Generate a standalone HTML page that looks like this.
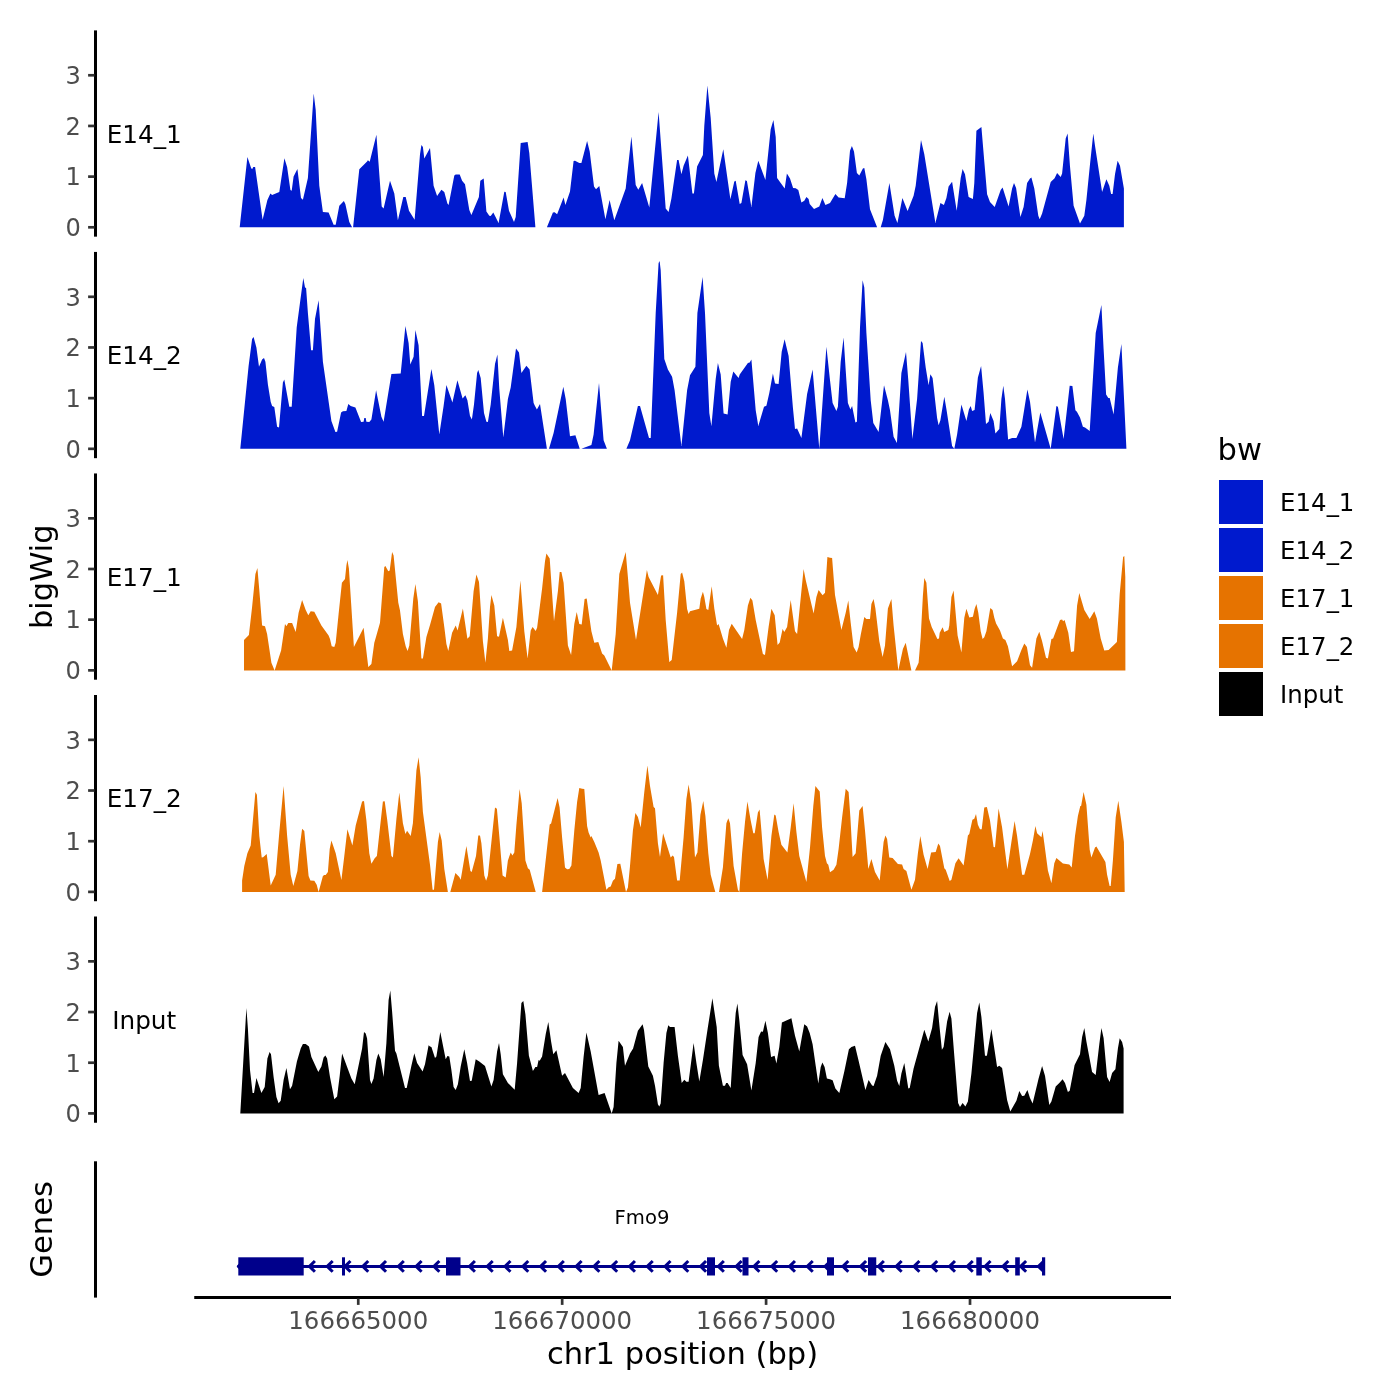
<!DOCTYPE html>
<html lang="en"><head><meta charset="utf-8"><title>bigWig tracks</title>
<style>
html,body{margin:0;padding:0;background:#fff}
body{width:1400px;height:1400px;overflow:hidden}
svg{display:block}
</style></head><body>
<svg width="1400" height="1400" viewBox="0 0 1400 1400" font-family="'DejaVu Sans', 'Liberation Sans', sans-serif">
<rect width="1400" height="1400" fill="#fff"/>
<g class="track">
<path d="M239.7,227.3L239.7,227.3L247.4,156.9L251.1,167.9L252.1,169.3L253.3,166.9L255.1,167.1L262.6,219.7L267.4,200.0L270.4,193.6L272.1,195.0L279.3,192.1L284.4,158.3L287.1,167.1L290.4,190.0L291.7,190.7L293.6,176.4L297.4,169.0L301.0,197.9L302.9,199.7L307.9,177.9L313.7,93.6L315.7,110.0L319.3,185.7L322.9,212.1L328.6,212.4L333.6,224.7L335.7,224.7L339.3,205.7L343.9,201.0L345.4,204.3L349.3,222.1L352.1,227.3L353.1,227.3L359.3,169.3L367.1,161.4L367.9,160.3L369.7,161.7L376.4,134.7L381.7,206.4L383.6,208.6L390.0,180.7L394.3,193.6L397.9,220.3L403.3,197.1L405.7,197.1L409.0,210.7L414.6,219.7L420.0,154.3L421.4,145.0L422.9,147.1L424.3,158.6L430.0,148.1L433.6,185.7L437.1,196.1L441.4,189.7L444.3,192.1L447.4,203.6L448.6,205.0L454.3,175.4L455.7,174.6L459.7,174.6L462.1,180.7L465.0,184.3L469.3,210.0L471.4,215.0L478.9,197.1L480.3,180.7L483.7,178.6L486.4,211.4L489.3,215.7L490.7,216.0L493.3,212.6L498.6,222.9L504.3,191.7L505.7,192.1L509.0,210.7L514.0,222.1L515.7,217.1L520.7,142.9L527.6,141.9L529.3,152.9L535.4,227.3L546.9,227.3L552.9,212.6L554.6,212.3L557.1,214.3L563.6,197.6L565.4,205.0L570.0,191.4L573.6,161.1L575.0,160.7L579.3,162.9L581.4,163.1L587.1,141.0L589.7,151.4L594.0,186.4L596.0,189.3L599.3,186.0L605.4,219.3L609.6,200.0L614.3,220.3L625.7,188.6L631.4,136.4L635.7,185.0L638.3,189.7L642.1,182.9L649.3,207.4L658.6,111.9L665.7,208.6L668.6,211.9L671.4,198.6L677.1,160.0L678.6,160.0L681.4,174.3L683.6,165.7L687.9,155.4L692.4,193.6L693.9,193.6L697.1,166.4L702.9,155.0L704.3,125.7L707.4,85.4L710.7,117.9L714.3,173.6L716.4,181.9L723.3,149.3L730.4,199.3L734.3,181.4L735.7,180.7L739.7,204.0L741.4,202.9L745.4,180.3L746.9,181.1L751.4,207.1L755.4,172.9L758.3,160.7L765.4,180.0L770.7,129.3L773.4,120.0L775.7,137.1L777.1,177.9L784.7,188.6L786.9,173.6L790.0,178.6L793.1,187.9L795.7,188.3L798.3,190.0L801.4,202.6L804.3,200.7L806.4,196.9L808.6,198.9L809.7,204.0L814.0,208.9L819.3,206.4L822.4,197.9L825.4,205.0L830.0,202.9L835.4,194.0L838.6,197.4L844.7,198.3L847.1,182.9L850.0,150.7L851.9,146.0L854.0,151.4L856.9,172.9L859.3,175.4L862.9,168.6L864.3,167.9L866.4,179.3L870.0,209.3L877.1,227.3L880.7,227.3L882.9,220.0L889.4,182.9L894.6,215.7L897.4,222.9L902.4,197.9L907.6,211.1L913.6,195.7L915.7,185.7L921.0,140.0L924.3,154.3L935.4,223.1L940.4,202.9L943.9,205.0L946.4,197.9L948.6,186.4L952.1,181.7L956.7,210.7L960.7,177.9L962.6,169.0L965.0,174.3L968.6,197.1L972.9,198.9L974.3,182.9L976.4,130.7L981.4,126.9L984.3,161.4L987.1,194.3L990.0,202.1L994.7,207.1L1000.7,190.0L1002.6,187.4L1008.6,206.4L1012.1,188.6L1014.0,182.9L1016.1,187.9L1020.4,217.1L1023.6,207.1L1027.1,182.9L1030.0,178.6L1031.4,177.4L1034.3,188.6L1038.3,215.7L1039.7,219.3L1042.1,213.6L1050.7,182.1L1054.6,178.3L1057.1,172.9L1060.7,177.1L1062.1,173.6L1065.7,138.6L1067.6,133.6L1070.0,166.4L1073.6,205.7L1080.0,223.6L1084.3,215.7L1086.4,200.0L1090.0,164.3L1093.3,133.6L1095.0,145.7L1102.1,192.1L1106.4,179.3L1109.3,185.7L1111.1,194.0L1112.6,194.0L1115.0,174.3L1117.6,160.7L1120.0,165.7L1123.9,188.6L1123.9,227.3L1123.9,227.3Z" fill="#001ACE"/>
<line x1="95.5" x2="95.5" y1="30.4" y2="236.65" stroke="#000" stroke-width="3.0"/>
<line x1="88.10" x2="94.50" y1="227.30" y2="227.30" stroke="#333" stroke-width="2.7"/>
<text x="80.9" y="236.10" font-size="24.1" fill="#4D4D4D" text-anchor="end">0</text>
<line x1="88.10" x2="94.50" y1="176.62" y2="176.62" stroke="#333" stroke-width="2.7"/>
<text x="80.9" y="185.42" font-size="24.1" fill="#4D4D4D" text-anchor="end">1</text>
<line x1="88.10" x2="94.50" y1="125.95" y2="125.95" stroke="#333" stroke-width="2.7"/>
<text x="80.9" y="134.75" font-size="24.1" fill="#4D4D4D" text-anchor="end">2</text>
<line x1="88.10" x2="94.50" y1="75.27" y2="75.27" stroke="#333" stroke-width="2.7"/>
<text x="80.9" y="84.07" font-size="24.1" fill="#4D4D4D" text-anchor="end">3</text>
<text x="144.2" y="142.90" font-size="24.7" fill="#000" text-anchor="middle">E14_1</text>
</g>
<g class="track">
<path d="M240.3,448.8L240.3,448.8L248.6,366.0L252.1,338.9L253.6,337.1L256.4,347.4L259.0,366.7L262.1,359.6L264.0,357.9L265.4,361.7L267.9,384.6L270.7,401.7L272.1,406.0L274.3,407.1L277.1,426.7L279.0,427.4L282.9,382.4L284.3,379.6L289.3,406.7L291.7,406.7L296.7,327.4L303.3,277.9L305.0,287.4L306.1,288.1L307.9,313.1L311.1,350.3L312.9,350.3L315.0,318.9L318.6,300.3L322.9,361.7L331.4,421.0L335.4,432.1L337.1,431.7L341.1,412.4L342.9,411.3L346.4,411.0L348.3,403.9L350.7,406.0L355.4,407.4L361.1,422.0L363.6,421.7L364.3,418.1L365.7,418.1L366.4,421.7L369.3,422.0L371.4,419.6L376.1,390.3L381.4,416.7L383.6,421.7L391.4,373.9L400.7,373.6L405.4,326.0L408.6,343.1L410.3,364.6L413.6,356.7L415.4,330.0L418.6,345.3L422.1,416.0L424.0,416.0L431.4,368.9L434.3,385.3L439.3,434.6L443.6,406.0L446.4,384.9L452.4,402.4L457.4,380.3L462.6,398.6L465.4,395.3L467.4,400.3L470.0,416.0L471.9,419.6L474.0,404.6L477.1,373.1L478.3,369.9L480.7,378.1L484.0,413.1L486.4,421.7L487.9,422.0L490.7,404.6L495.0,363.9L497.4,354.6L499.3,388.9L503.3,437.4L507.9,398.9L510.7,387.4L516.0,348.6L519.0,352.4L521.4,373.1L526.4,365.7L529.6,369.6L533.6,403.1L535.0,406.0L536.9,409.6L540.0,403.9L546.9,448.8L549.0,448.8L553.6,433.1L563.3,386.7L565.7,398.9L570.0,436.3L575.4,435.3L579.7,448.8L581.4,448.8L591.4,444.9L593.6,434.6L599.0,382.9L603.6,440.3L606.9,448.8L626.4,448.8L630.0,440.3L637.9,406.0L640.0,406.0L649.0,438.1L650.7,438.1L655.7,313.1L658.6,263.1L659.6,261.0L660.7,270.3L664.3,358.9L667.9,369.6L672.1,376.7L674.6,390.3L681.4,446.0L687.1,390.3L690.0,375.3L695.4,366.7L697.4,313.1L702.6,277.1L705.0,313.1L709.3,413.1L711.4,426.3L715.7,378.9L717.9,363.1L720.7,374.6L723.6,413.6L727.6,414.6L730.7,381.7L733.3,371.4L738.6,378.1L739.7,374.6L747.9,362.9L749.7,362.4L751.4,359.6L755.7,410.3L758.3,426.0L764.0,406.7L766.4,405.7L769.3,393.1L772.9,373.6L775.0,383.4L778.6,383.9L781.7,351.7L784.6,339.3L788.6,356.0L792.9,407.4L795.0,428.9L797.1,428.6L801.4,437.9L807.1,393.9L812.6,369.6L819.3,448.8L826.4,346.7L830.0,380.3L832.6,403.1L836.4,411.0L837.9,406.7L840.7,361.7L843.6,337.4L845.7,370.3L847.9,403.1L850.4,409.6L852.1,406.0L855.4,422.4L856.9,421.7L860.0,327.4L862.6,280.3L864.3,287.4L866.4,333.1L870.7,400.3L873.3,423.1L878.6,432.0L884.0,385.3L887.9,400.3L890.0,410.3L893.6,436.7L896.9,443.1L901.4,373.1L906.0,352.0L908.3,380.3L912.4,438.9L917.1,398.9L921.0,341.0L922.6,343.1L925.7,367.4L928.6,385.3L930.4,374.3L932.6,378.1L937.1,418.1L938.6,425.3L940.4,420.3L944.3,396.7L946.4,408.9L952.1,446.0L954.3,448.8L957.1,434.6L961.4,404.6L966.4,421.0L968.9,409.6L970.7,406.0L972.1,411.0L974.6,410.0L977.9,377.4L981.1,366.0L983.6,393.1L986.0,423.9L988.6,421.7L990.3,413.1L993.6,421.0L995.4,433.4L999.3,429.1L1001.4,398.9L1003.3,385.7L1005.0,398.9L1008.1,439.6L1012.1,438.1L1016.4,438.1L1021.4,426.7L1024.3,408.9L1027.4,389.6L1030.0,401.7L1035.0,442.4L1040.3,412.4L1050.7,448.8L1056.4,406.0L1057.9,406.7L1063.6,438.9L1069.7,385.7L1072.4,386.0L1075.4,410.3L1076.9,411.7L1080.0,417.4L1082.9,426.7L1085.0,427.4L1089.7,431.0L1095.7,333.1L1101.4,305.0L1103.6,348.9L1106.1,394.6L1108.3,398.1L1109.7,398.1L1113.6,414.6L1117.9,367.4L1121.4,343.9L1126.4,448.8L1126.4,448.8Z" fill="#001ACE"/>
<line x1="95.5" x2="95.5" y1="251.925" y2="458.175" stroke="#000" stroke-width="3.0"/>
<line x1="88.10" x2="94.50" y1="448.83" y2="448.83" stroke="#333" stroke-width="2.7"/>
<text x="80.9" y="457.63" font-size="24.1" fill="#4D4D4D" text-anchor="end">0</text>
<line x1="88.10" x2="94.50" y1="398.15" y2="398.15" stroke="#333" stroke-width="2.7"/>
<text x="80.9" y="406.95" font-size="24.1" fill="#4D4D4D" text-anchor="end">1</text>
<line x1="88.10" x2="94.50" y1="347.47" y2="347.47" stroke="#333" stroke-width="2.7"/>
<text x="80.9" y="356.27" font-size="24.1" fill="#4D4D4D" text-anchor="end">2</text>
<line x1="88.10" x2="94.50" y1="296.80" y2="296.80" stroke="#333" stroke-width="2.7"/>
<text x="80.9" y="305.60" font-size="24.1" fill="#4D4D4D" text-anchor="end">3</text>
<text x="144.2" y="364.43" font-size="24.7" fill="#000" text-anchor="middle">E14_2</text>
</g>
<g class="track">
<path d="M244.0,670.4L244.0,670.4L244.0,639.9L248.9,634.9L252.1,607.0L255.4,574.1L257.4,568.1L259.3,589.9L262.1,625.6L265.0,626.3L267.1,634.1L271.4,662.7L274.6,670.4L281.1,650.6L285.0,624.1L286.4,626.3L288.3,623.0L292.1,623.1L295.7,632.0L298.6,612.7L302.1,600.1L305.7,609.9L308.3,615.3L310.7,611.3L314.3,611.7L321.4,625.6L328.6,635.6L330.0,639.1L331.7,646.3L334.3,647.0L335.7,642.7L338.6,614.1L341.9,582.7L345.0,579.1L346.4,565.6L347.4,559.9L348.9,568.4L351.1,602.7L353.9,647.0L363.6,627.7L368.3,667.0L371.4,664.1L374.3,642.7L376.4,635.6L380.0,622.7L384.3,567.0L385.4,565.9L388.3,571.3L389.7,570.6L392.1,552.0L393.6,555.6L398.3,602.7L400.0,610.6L402.9,634.1L405.7,646.3L407.6,651.0L409.3,645.6L413.3,598.4L415.4,584.1L417.9,601.3L421.4,658.4L422.9,658.4L426.4,637.0L430.0,624.9L435.0,607.0L438.6,602.3L441.1,603.4L444.3,627.0L446.4,644.1L448.3,651.0L452.1,632.7L455.7,625.6L457.6,630.6L462.9,608.4L467.4,638.7L469.7,636.3L473.6,591.3L476.4,574.4L479.0,582.0L482.9,641.3L485.4,662.7L487.9,638.4L490.0,607.0L491.4,594.9L494.3,605.6L497.1,636.3L499.0,636.7L502.9,617.7L507.9,639.9L509.3,650.9L512.1,650.6L516.4,627.0L520.4,580.6L524.3,631.3L527.6,658.4L530.7,630.6L532.6,627.0L535.7,631.0L537.1,627.7L542.1,588.4L545.0,561.3L546.4,553.4L549.7,558.4L554.0,621.3L557.9,591.3L559.7,572.0L561.4,572.0L563.6,582.7L567.9,645.6L571.1,654.9L574.3,624.1L576.7,612.0L579.3,624.1L581.7,624.4L584.6,599.1L586.7,598.4L591.4,631.3L594.3,642.7L598.3,642.0L602.1,653.4L604.3,655.6L611.7,670.4L615.7,634.1L619.3,574.1L625.7,552.0L627.9,577.0L630.0,602.7L636.0,639.9L646.9,570.1L648.6,577.0L657.9,594.9L661.1,575.6L663.1,575.3L665.7,619.9L669.3,662.0L671.7,659.9L677.1,612.7L680.7,574.1L682.1,572.4L684.3,581.3L687.1,609.1L688.6,614.1L690.0,611.3L699.3,608.7L700.7,598.4L702.9,591.7L704.3,597.0L706.4,609.1L708.3,609.9L711.7,586.3L714.3,608.4L717.1,625.6L718.6,624.1L722.9,638.4L726.4,647.7L729.0,629.9L731.7,623.7L742.1,639.1L744.3,629.9L747.9,605.6L750.4,597.7L752.4,600.6L755.7,619.9L762.9,654.1L765.0,654.9L768.6,627.0L771.4,608.7L774.7,615.3L777.6,644.9L779.7,642.4L782.6,629.1L784.3,632.0L787.1,627.0L790.7,600.1L795.0,631.3L797.1,633.9L803.6,569.1L805.7,579.9L813.6,613.4L816.4,597.0L818.6,589.9L822.6,595.3L825.0,592.7L827.4,557.0L830.0,557.7L832.1,558.1L835.0,594.9L841.4,629.9L845.7,612.7L848.3,600.6L850.7,622.7L853.6,647.0L856.7,652.4L858.6,647.0L860.7,634.9L864.3,617.0L866.4,619.1L870.0,618.9L871.4,604.1L873.6,599.1L875.4,608.4L879.3,641.3L882.6,657.0L885.0,645.6L887.9,608.4L891.4,599.1L893.6,625.6L898.3,670.4L902.9,649.1L905.7,642.7L911.4,670.4L915.0,670.4L918.6,662.7L920.7,637.0L922.9,595.6L924.3,578.0L926.4,582.7L929.0,618.4L931.7,627.0L937.4,639.1L939.0,638.4L939.7,632.7L942.6,627.3L944.3,632.0L948.3,629.9L949.3,625.6L951.4,597.0L953.6,590.6L955.4,610.6L957.6,635.6L961.4,652.4L964.3,617.7L966.4,608.7L969.3,617.4L972.9,616.7L974.6,609.1L976.4,604.1L978.3,612.7L980.7,631.3L982.6,639.1L984.3,637.3L986.4,631.3L990.3,608.0L992.6,610.1L994.3,617.7L996.1,623.4L1000.0,630.6L1002.9,638.4L1005.4,639.9L1007.9,646.3L1012.1,666.3L1017.1,661.3L1021.4,649.9L1024.3,643.4L1026.9,647.0L1030.0,665.3L1032.1,667.7L1036.4,638.4L1039.3,631.7L1042.1,641.3L1046.0,657.7L1047.9,658.4L1051.4,639.1L1053.1,638.4L1060.0,619.9L1062.1,619.6L1063.1,621.3L1064.6,619.9L1068.3,632.7L1071.0,652.0L1074.0,651.3L1077.1,605.6L1079.3,593.0L1084.3,609.9L1089.7,619.1L1094.3,611.3L1096.9,618.4L1100.7,638.4L1104.3,650.6L1108.6,649.9L1116.9,642.0L1119.7,594.1L1123.1,557.0L1124.3,556.0L1125.3,577.0L1125.4,670.4L1125.4,670.4Z" fill="#E67300"/>
<line x1="95.5" x2="95.5" y1="473.45" y2="679.7" stroke="#000" stroke-width="3.0"/>
<line x1="88.10" x2="94.50" y1="670.35" y2="670.35" stroke="#333" stroke-width="2.7"/>
<text x="80.9" y="679.15" font-size="24.1" fill="#4D4D4D" text-anchor="end">0</text>
<line x1="88.10" x2="94.50" y1="619.67" y2="619.67" stroke="#333" stroke-width="2.7"/>
<text x="80.9" y="628.47" font-size="24.1" fill="#4D4D4D" text-anchor="end">1</text>
<line x1="88.10" x2="94.50" y1="569.00" y2="569.00" stroke="#333" stroke-width="2.7"/>
<text x="80.9" y="577.80" font-size="24.1" fill="#4D4D4D" text-anchor="end">2</text>
<line x1="88.10" x2="94.50" y1="518.32" y2="518.32" stroke="#333" stroke-width="2.7"/>
<text x="80.9" y="527.12" font-size="24.1" fill="#4D4D4D" text-anchor="end">3</text>
<text x="144.2" y="585.95" font-size="24.7" fill="#000" text-anchor="middle">E17_1</text>
</g>
<g class="track">
<path d="M242.1,891.9L242.1,891.9L242.1,880.4L244.3,866.1L247.4,853.3L250.7,845.4L255.4,792.1L256.9,794.7L259.3,836.1L261.7,857.6L263.1,857.3L266.7,854.0L270.7,885.4L275.7,874.7L279.3,832.6L283.6,786.1L287.1,835.4L290.7,874.7L293.3,885.9L297.4,871.1L300.0,844.7L302.1,828.7L304.3,831.1L308.6,876.1L310.4,880.4L314.3,880.7L316.7,884.7L318.6,891.9L322.9,876.1L324.3,875.0L325.7,875.0L327.9,871.9L329.7,849.0L331.4,840.4L335.7,853.3L341.4,880.1L344.3,856.1L347.4,829.3L352.4,845.4L355.7,825.4L362.1,801.6L364.0,801.1L366.4,820.4L369.3,853.3L371.4,863.7L374.7,858.3L376.9,856.1L380.0,827.6L382.9,801.6L384.7,801.3L387.1,819.0L391.4,856.1L392.9,857.6L396.4,819.0L399.3,792.6L402.9,823.3L405.4,834.0L407.1,830.7L410.7,836.1L412.9,823.3L416.4,770.4L418.6,757.3L420.7,777.6L422.9,811.9L430.0,864.7L432.6,889.7L434.0,889.7L437.9,841.9L439.7,832.1L441.7,840.4L444.3,869.0L447.9,891.9L450.3,891.9L455.4,873.0L459.3,876.9L460.7,879.7L466.4,846.1L470.4,871.1L471.7,872.1L476.0,856.1L478.3,835.4L480.0,835.4L481.4,843.3L484.3,875.4L486.1,880.7L487.9,875.4L492.9,827.6L495.0,807.6L496.9,808.7L499.3,836.1L502.6,875.4L505.7,877.6L507.9,860.4L510.7,852.6L512.4,855.4L514.3,852.6L516.4,824.7L519.6,789.0L521.7,803.3L525.4,860.4L527.9,868.3L529.7,869.7L535.7,891.9L542.1,891.9L547.1,847.6L549.7,824.4L551.1,823.6L557.6,798.0L559.6,807.6L562.1,837.6L565.0,867.6L567.1,869.3L569.3,869.0L571.4,865.4L574.3,830.4L577.1,801.9L579.3,788.0L582.1,788.7L584.3,789.0L587.1,826.1L588.6,832.6L590.7,837.6L591.4,835.9L594.3,841.9L598.6,852.6L600.7,860.4L606.4,889.7L608.6,887.3L610.7,886.4L612.9,880.7L615.0,878.7L617.4,864.0L620.3,863.7L626.0,891.9L627.9,887.6L630.0,866.1L632.9,830.4L635.4,813.0L637.9,816.9L640.7,827.6L644.3,791.9L647.4,765.4L650.0,786.1L653.6,806.9L655.0,808.3L657.9,843.3L660.0,856.9L663.1,833.3L667.1,846.1L670.7,857.6L672.6,855.4L674.0,856.9L677.1,880.4L679.7,880.4L683.6,837.6L686.4,799.0L688.6,784.4L691.4,803.3L695.0,857.6L697.4,852.6L700.4,814.7L703.3,801.1L705.4,816.1L708.3,853.3L710.7,874.7L715.3,891.9L719.0,891.9L722.9,867.6L726.4,823.3L728.3,818.3L730.0,823.3L733.6,866.1L737.9,889.7L739.3,891.9L742.1,853.3L745.0,821.9L747.4,801.6L750.7,820.4L753.3,833.3L754.7,833.3L757.9,812.6L759.6,809.4L761.4,830.4L763.6,859.0L767.6,880.1L771.4,836.1L774.3,814.4L775.7,815.4L778.6,831.9L781.4,844.7L787.4,852.6L790.7,827.6L793.6,803.3L796.4,831.9L799.3,856.1L806.4,881.9L810.0,847.6L813.3,806.1L815.4,785.9L819.7,791.6L822.1,827.6L825.0,856.1L826.9,863.3L828.3,864.7L830.0,872.3L833.6,869.7L836.4,864.7L838.6,849.0L842.1,817.6L845.7,788.7L848.6,791.9L850.4,817.6L852.6,856.9L855.7,853.3L859.3,810.4L862.6,805.9L865.0,830.4L868.3,869.0L871.4,859.0L875.0,871.9L879.7,880.4L883.6,841.9L885.4,835.4L887.1,839.0L889.3,857.6L892.6,857.9L897.9,864.0L902.1,864.4L903.6,869.0L906.4,871.1L911.4,889.7L915.0,879.7L917.9,853.3L920.3,835.9L923.6,854.7L927.6,869.0L931.1,852.6L935.7,852.1L938.3,843.6L940.0,846.1L944.3,868.3L945.7,869.7L949.7,881.1L951.4,879.7L955.4,863.3L958.6,858.3L963.6,865.4L967.9,835.4L969.3,834.0L972.4,819.7L974.3,818.7L976.0,814.0L977.9,824.7L980.0,829.3L981.7,829.3L984.3,807.6L986.9,806.9L990.0,820.4L993.6,846.9L995.0,847.3L998.6,808.6L1002.1,827.6L1007.4,869.3L1011.4,841.9L1014.6,821.1L1017.1,836.1L1022.1,874.7L1024.3,874.7L1030.0,854.0L1032.9,840.4L1035.4,826.1L1037.1,833.3L1041.4,837.3L1042.6,831.1L1044.3,843.3L1047.9,870.4L1051.4,883.3L1054.3,863.3L1056.4,858.0L1062.9,863.6L1069.3,864.4L1071.7,867.6L1075.0,836.1L1077.9,816.1L1080.3,806.1L1081.1,805.9L1083.6,792.1L1086.4,804.7L1089.7,849.7L1091.4,857.6L1095.0,847.6L1096.4,846.4L1105.4,861.9L1107.1,874.7L1109.6,886.1L1110.7,886.1L1112.9,860.4L1115.7,817.6L1118.3,800.7L1121.4,821.9L1123.9,841.9L1124.7,891.9L1124.7,891.9Z" fill="#E67300"/>
<line x1="95.5" x2="95.5" y1="694.975" y2="901.225" stroke="#000" stroke-width="3.0"/>
<line x1="88.10" x2="94.50" y1="891.88" y2="891.88" stroke="#333" stroke-width="2.7"/>
<text x="80.9" y="900.67" font-size="24.1" fill="#4D4D4D" text-anchor="end">0</text>
<line x1="88.10" x2="94.50" y1="841.20" y2="841.20" stroke="#333" stroke-width="2.7"/>
<text x="80.9" y="850.00" font-size="24.1" fill="#4D4D4D" text-anchor="end">1</text>
<line x1="88.10" x2="94.50" y1="790.52" y2="790.52" stroke="#333" stroke-width="2.7"/>
<text x="80.9" y="799.32" font-size="24.1" fill="#4D4D4D" text-anchor="end">2</text>
<line x1="88.10" x2="94.50" y1="739.85" y2="739.85" stroke="#333" stroke-width="2.7"/>
<text x="80.9" y="748.65" font-size="24.1" fill="#4D4D4D" text-anchor="end">3</text>
<text x="144.2" y="807.48" font-size="24.7" fill="#000" text-anchor="middle">E17_2</text>
</g>
<g class="track">
<path d="M240.3,1113.4L240.3,1113.4L243.6,1055.7L246.4,1007.9L247.9,1028.6L250.0,1070.0L252.6,1092.9L254.0,1092.9L256.4,1077.9L261.4,1092.9L264.7,1087.1L267.4,1058.6L269.6,1052.1L271.0,1054.3L273.6,1077.1L276.4,1097.1L278.6,1103.3L280.7,1100.7L283.6,1080.0L286.4,1067.9L290.0,1089.3L292.1,1085.7L296.9,1061.4L300.7,1048.6L302.9,1044.0L305.7,1044.0L309.0,1046.4L311.4,1057.1L318.3,1072.1L321.4,1066.4L323.6,1057.4L325.4,1055.4L327.1,1058.6L330.0,1077.1L334.3,1099.3L337.1,1096.4L339.7,1075.7L342.1,1053.6L351.4,1078.6L354.7,1084.3L362.1,1048.6L364.0,1031.9L365.7,1033.6L367.1,1038.6L370.0,1080.0L371.4,1084.0L373.6,1078.6L376.4,1060.0L378.3,1053.6L380.7,1059.3L383.6,1077.1L386.4,1042.9L388.6,1000.0L390.3,990.4L392.1,1011.4L395.0,1050.7L396.4,1053.6L405.0,1087.9L406.7,1087.9L411.4,1065.7L414.3,1053.3L417.1,1062.9L422.6,1071.4L425.0,1064.3L428.6,1045.3L430.0,1046.4L431.4,1047.1L435.0,1057.9L436.4,1056.4L440.3,1031.9L445.7,1059.3L447.4,1056.0L449.3,1056.4L451.4,1070.0L453.6,1087.1L455.7,1090.0L457.9,1084.3L460.7,1066.4L464.3,1049.3L467.1,1062.9L470.0,1081.1L471.7,1080.7L475.7,1059.3L479.3,1061.4L485.0,1066.0L491.4,1086.4L493.6,1080.0L497.1,1051.4L499.0,1043.1L500.7,1054.3L502.9,1074.3L507.9,1082.9L514.7,1089.7L517.1,1062.9L521.4,1002.9L523.3,1001.1L525.4,1014.3L528.9,1055.7L532.9,1071.1L535.4,1067.1L537.1,1066.9L538.6,1060.0L539.7,1060.7L542.1,1056.4L545.7,1034.3L548.3,1022.1L551.1,1041.4L553.3,1054.3L556.4,1050.3L562.1,1075.7L565.0,1073.1L572.9,1087.9L578.6,1092.9L580.7,1087.9L583.6,1057.1L586.4,1032.4L590.7,1051.4L598.6,1095.0L604.6,1093.1L611.7,1113.4L613.6,1107.1L616.4,1062.9L618.6,1040.7L622.9,1046.9L625.0,1065.7L630.0,1053.6L633.1,1048.6L637.9,1030.7L642.6,1024.3L644.0,1030.0L648.3,1066.4L652.9,1075.7L655.0,1085.7L657.9,1104.3L659.3,1106.4L660.7,1103.6L663.6,1062.9L666.4,1032.9L668.3,1025.3L670.0,1026.9L674.6,1027.1L677.9,1055.7L681.7,1082.9L684.3,1079.7L686.4,1081.7L688.6,1081.7L691.4,1060.0L693.6,1043.1L696.4,1062.9L699.3,1081.4L702.9,1060.0L707.9,1027.1L712.4,998.3L716.7,1027.1L718.9,1065.7L722.9,1085.7L725.0,1085.7L726.1,1082.9L727.6,1083.1L730.7,1087.9L733.6,1041.4L735.7,1012.9L737.4,1003.6L739.3,1020.0L742.6,1055.0L747.1,1064.3L751.4,1090.4L755.7,1062.9L758.6,1037.1L761.1,1031.4L762.9,1031.7L765.4,1020.7L767.9,1032.9L771.1,1056.9L774.6,1055.7L776.4,1063.6L779.3,1047.1L781.9,1022.6L791.4,1018.3L795.0,1035.7L799.3,1051.4L802.1,1035.7L804.3,1024.3L807.1,1026.4L809.7,1032.9L812.6,1044.3L815.7,1065.7L818.3,1083.6L820.7,1067.1L822.4,1062.6L824.6,1067.1L826.9,1078.6L830.0,1079.3L832.6,1080.3L835.4,1088.6L839.3,1092.9L844.3,1071.4L848.9,1049.3L851.4,1047.1L855.0,1045.7L858.6,1060.7L865.4,1090.0L868.6,1080.0L872.1,1085.4L873.6,1086.0L877.1,1075.7L880.7,1055.7L885.4,1042.1L890.0,1049.3L894.3,1065.7L897.1,1080.7L899.3,1086.0L901.4,1073.6L904.3,1062.9L908.3,1088.6L909.7,1087.9L913.6,1068.6L924.3,1029.7L928.3,1041.4L932.1,1027.9L935.0,1007.1L937.1,1001.1L939.7,1028.6L941.9,1049.7L943.6,1047.1L947.1,1021.4L949.6,1011.7L951.4,1018.6L954.3,1055.7L958.1,1102.9L960.0,1106.9L962.6,1102.9L965.4,1106.4L967.9,1101.4L971.4,1073.6L977.1,1012.9L979.3,1002.4L981.4,1017.1L985.0,1055.7L986.9,1055.7L991.4,1029.0L997.1,1067.1L999.3,1065.7L1002.1,1067.9L1007.1,1100.0L1010.3,1111.4L1016.4,1100.7L1019.3,1091.1L1022.1,1096.0L1024.3,1095.7L1027.4,1090.0L1030.0,1097.9L1032.6,1103.6L1038.6,1078.6L1042.1,1066.0L1045.0,1075.7L1049.3,1105.0L1051.4,1101.4L1055.7,1086.4L1059.3,1082.9L1062.6,1079.3L1065.0,1082.9L1067.9,1092.1L1069.7,1090.7L1074.6,1065.0L1080.0,1054.3L1082.1,1037.1L1084.3,1028.1L1086.4,1041.4L1092.1,1072.1L1095.7,1075.0L1099.3,1044.3L1101.4,1028.1L1103.6,1037.9L1107.1,1077.1L1109.6,1082.1L1112.1,1072.9L1115.4,1069.3L1117.9,1048.6L1119.7,1038.3L1122.1,1042.1L1123.6,1048.6L1123.6,1113.4L1123.6,1113.4Z" fill="#000000"/>
<line x1="95.5" x2="95.5" y1="916.5" y2="1122.75" stroke="#000" stroke-width="3.0"/>
<line x1="88.10" x2="94.50" y1="1113.40" y2="1113.40" stroke="#333" stroke-width="2.7"/>
<text x="80.9" y="1122.20" font-size="24.1" fill="#4D4D4D" text-anchor="end">0</text>
<line x1="88.10" x2="94.50" y1="1062.72" y2="1062.72" stroke="#333" stroke-width="2.7"/>
<text x="80.9" y="1071.52" font-size="24.1" fill="#4D4D4D" text-anchor="end">1</text>
<line x1="88.10" x2="94.50" y1="1012.05" y2="1012.05" stroke="#333" stroke-width="2.7"/>
<text x="80.9" y="1020.85" font-size="24.1" fill="#4D4D4D" text-anchor="end">2</text>
<line x1="88.10" x2="94.50" y1="961.37" y2="961.37" stroke="#333" stroke-width="2.7"/>
<text x="80.9" y="970.17" font-size="24.1" fill="#4D4D4D" text-anchor="end">3</text>
<text x="144.2" y="1029.00" font-size="24.7" fill="#000" text-anchor="middle">Input</text>
</g>
<text transform="translate(51.6,576.7) rotate(-90)" font-size="30.56" text-anchor="middle" fill="#000">bigWig</text>
<text transform="translate(51.6,1229.4) rotate(-90)" font-size="30.56" text-anchor="middle" fill="#000">Genes</text>
<line x1="95.5" x2="95.5" y1="1161.3" y2="1297.6" stroke="#000" stroke-width="3.0"/>
<line x1="194.25" x2="1171" y1="1297.5" y2="1297.5" stroke="#000" stroke-width="3.0"/>
<line x1="358.25" x2="358.25" y1="1298.5" y2="1304.9" stroke="#333" stroke-width="2.7"/>
<text x="358.25" y="1328.8" font-size="24.44" fill="#4D4D4D" text-anchor="middle">166665000</text>
<line x1="562.17" x2="562.17" y1="1298.5" y2="1304.9" stroke="#333" stroke-width="2.7"/>
<text x="562.17" y="1328.8" font-size="24.44" fill="#4D4D4D" text-anchor="middle">166670000</text>
<line x1="766.09" x2="766.09" y1="1298.5" y2="1304.9" stroke="#333" stroke-width="2.7"/>
<text x="766.09" y="1328.8" font-size="24.44" fill="#4D4D4D" text-anchor="middle">166675000</text>
<line x1="970.01" x2="970.01" y1="1298.5" y2="1304.9" stroke="#333" stroke-width="2.7"/>
<text x="970.01" y="1328.8" font-size="24.44" fill="#4D4D4D" text-anchor="middle">166680000</text>
<text x="682.5" y="1363.8" font-size="30.56" text-anchor="middle" fill="#000">chr1 position (bp)</text>
<g stroke="#00008B" fill="none" stroke-width="3" stroke-linejoin="round">
<line x1="238.5" x2="1044" y1="1266.4" y2="1266.4"/>
<path d="M243.78,1261.00L238.38,1266.4L243.78,1271.80M261.56,1261.00L256.16,1266.4L261.56,1271.80M279.34,1261.00L273.94,1266.4L279.34,1271.80M297.12,1261.00L291.72,1266.4L297.12,1271.80M314.90,1261.00L309.50,1266.4L314.90,1271.80M332.68,1261.00L327.28,1266.4L332.68,1271.80M350.46,1261.00L345.06,1266.4L350.46,1271.80M368.24,1261.00L362.84,1266.4L368.24,1271.80M386.02,1261.00L380.62,1266.4L386.02,1271.80M403.80,1261.00L398.40,1266.4L403.80,1271.80M421.58,1261.00L416.18,1266.4L421.58,1271.80M439.36,1261.00L433.96,1266.4L439.36,1271.80M457.14,1261.00L451.74,1266.4L457.14,1271.80M474.92,1261.00L469.52,1266.4L474.92,1271.80M492.70,1261.00L487.30,1266.4L492.70,1271.80M510.48,1261.00L505.08,1266.4L510.48,1271.80M528.26,1261.00L522.86,1266.4L528.26,1271.80M546.04,1261.00L540.64,1266.4L546.04,1271.80M563.82,1261.00L558.42,1266.4L563.82,1271.80M581.60,1261.00L576.20,1266.4L581.60,1271.80M599.38,1261.00L593.98,1266.4L599.38,1271.80M617.16,1261.00L611.76,1266.4L617.16,1271.80M634.94,1261.00L629.54,1266.4L634.94,1271.80M652.72,1261.00L647.32,1266.4L652.72,1271.80M670.50,1261.00L665.10,1266.4L670.50,1271.80M688.28,1261.00L682.88,1266.4L688.28,1271.80M706.06,1261.00L700.66,1266.4L706.06,1271.80M723.84,1261.00L718.44,1266.4L723.84,1271.80M741.62,1261.00L736.22,1266.4L741.62,1271.80M759.40,1261.00L754.00,1266.4L759.40,1271.80M777.18,1261.00L771.78,1266.4L777.18,1271.80M794.96,1261.00L789.56,1266.4L794.96,1271.80M812.74,1261.00L807.34,1266.4L812.74,1271.80M830.52,1261.00L825.12,1266.4L830.52,1271.80M848.30,1261.00L842.90,1266.4L848.30,1271.80M866.08,1261.00L860.68,1266.4L866.08,1271.80M883.86,1261.00L878.46,1266.4L883.86,1271.80M901.64,1261.00L896.24,1266.4L901.64,1271.80M919.42,1261.00L914.02,1266.4L919.42,1271.80M937.20,1261.00L931.80,1266.4L937.20,1271.80M954.98,1261.00L949.58,1266.4L954.98,1271.80M972.76,1261.00L967.36,1266.4L972.76,1271.80M990.54,1261.00L985.14,1266.4L990.54,1271.80M1008.32,1261.00L1002.92,1266.4L1008.32,1271.80M1026.10,1261.00L1020.70,1266.4L1026.10,1271.80M1043.88,1261.00L1038.48,1266.4L1043.88,1271.80"/>
</g>
<rect x="238.3" y="1257.30" width="65.40" height="18.2" fill="#00008B"/>
<rect x="342" y="1257.30" width="3.00" height="18.2" fill="#00008B"/>
<rect x="446" y="1257.30" width="14.50" height="18.2" fill="#00008B"/>
<rect x="707" y="1257.30" width="8.00" height="18.2" fill="#00008B"/>
<rect x="742.5" y="1257.30" width="6.00" height="18.2" fill="#00008B"/>
<rect x="827" y="1257.30" width="7.00" height="18.2" fill="#00008B"/>
<rect x="868" y="1257.30" width="8.25" height="18.2" fill="#00008B"/>
<rect x="976.3" y="1257.30" width="5.50" height="18.2" fill="#00008B"/>
<rect x="1015.2" y="1257.30" width="4.60" height="18.2" fill="#00008B"/>
<rect x="1042" y="1257.30" width="3.20" height="18.2" fill="#00008B"/>
<text x="642" y="1223.9" font-size="19.6" text-anchor="middle" fill="#000">Fmo9</text>
<text x="1217.5" y="460.1" font-size="30.56" fill="#000">bw</text>
<rect x="1219" y="480" width="44" height="44" fill="#001ACE"/>
<text x="1280.1" y="511.3" font-size="24.44" fill="#000">E14_1</text>
<rect x="1219" y="528" width="44" height="44" fill="#001ACE"/>
<text x="1280.1" y="559.3" font-size="24.44" fill="#000">E14_2</text>
<rect x="1219" y="576" width="44" height="44" fill="#E67300"/>
<text x="1280.1" y="607.3" font-size="24.44" fill="#000">E17_1</text>
<rect x="1219" y="624" width="44" height="44" fill="#E67300"/>
<text x="1280.1" y="655.3" font-size="24.44" fill="#000">E17_2</text>
<rect x="1219" y="672" width="44" height="44" fill="#000000"/>
<text x="1280.1" y="703.3" font-size="24.44" fill="#000">Input</text>
</svg>
</body></html>
